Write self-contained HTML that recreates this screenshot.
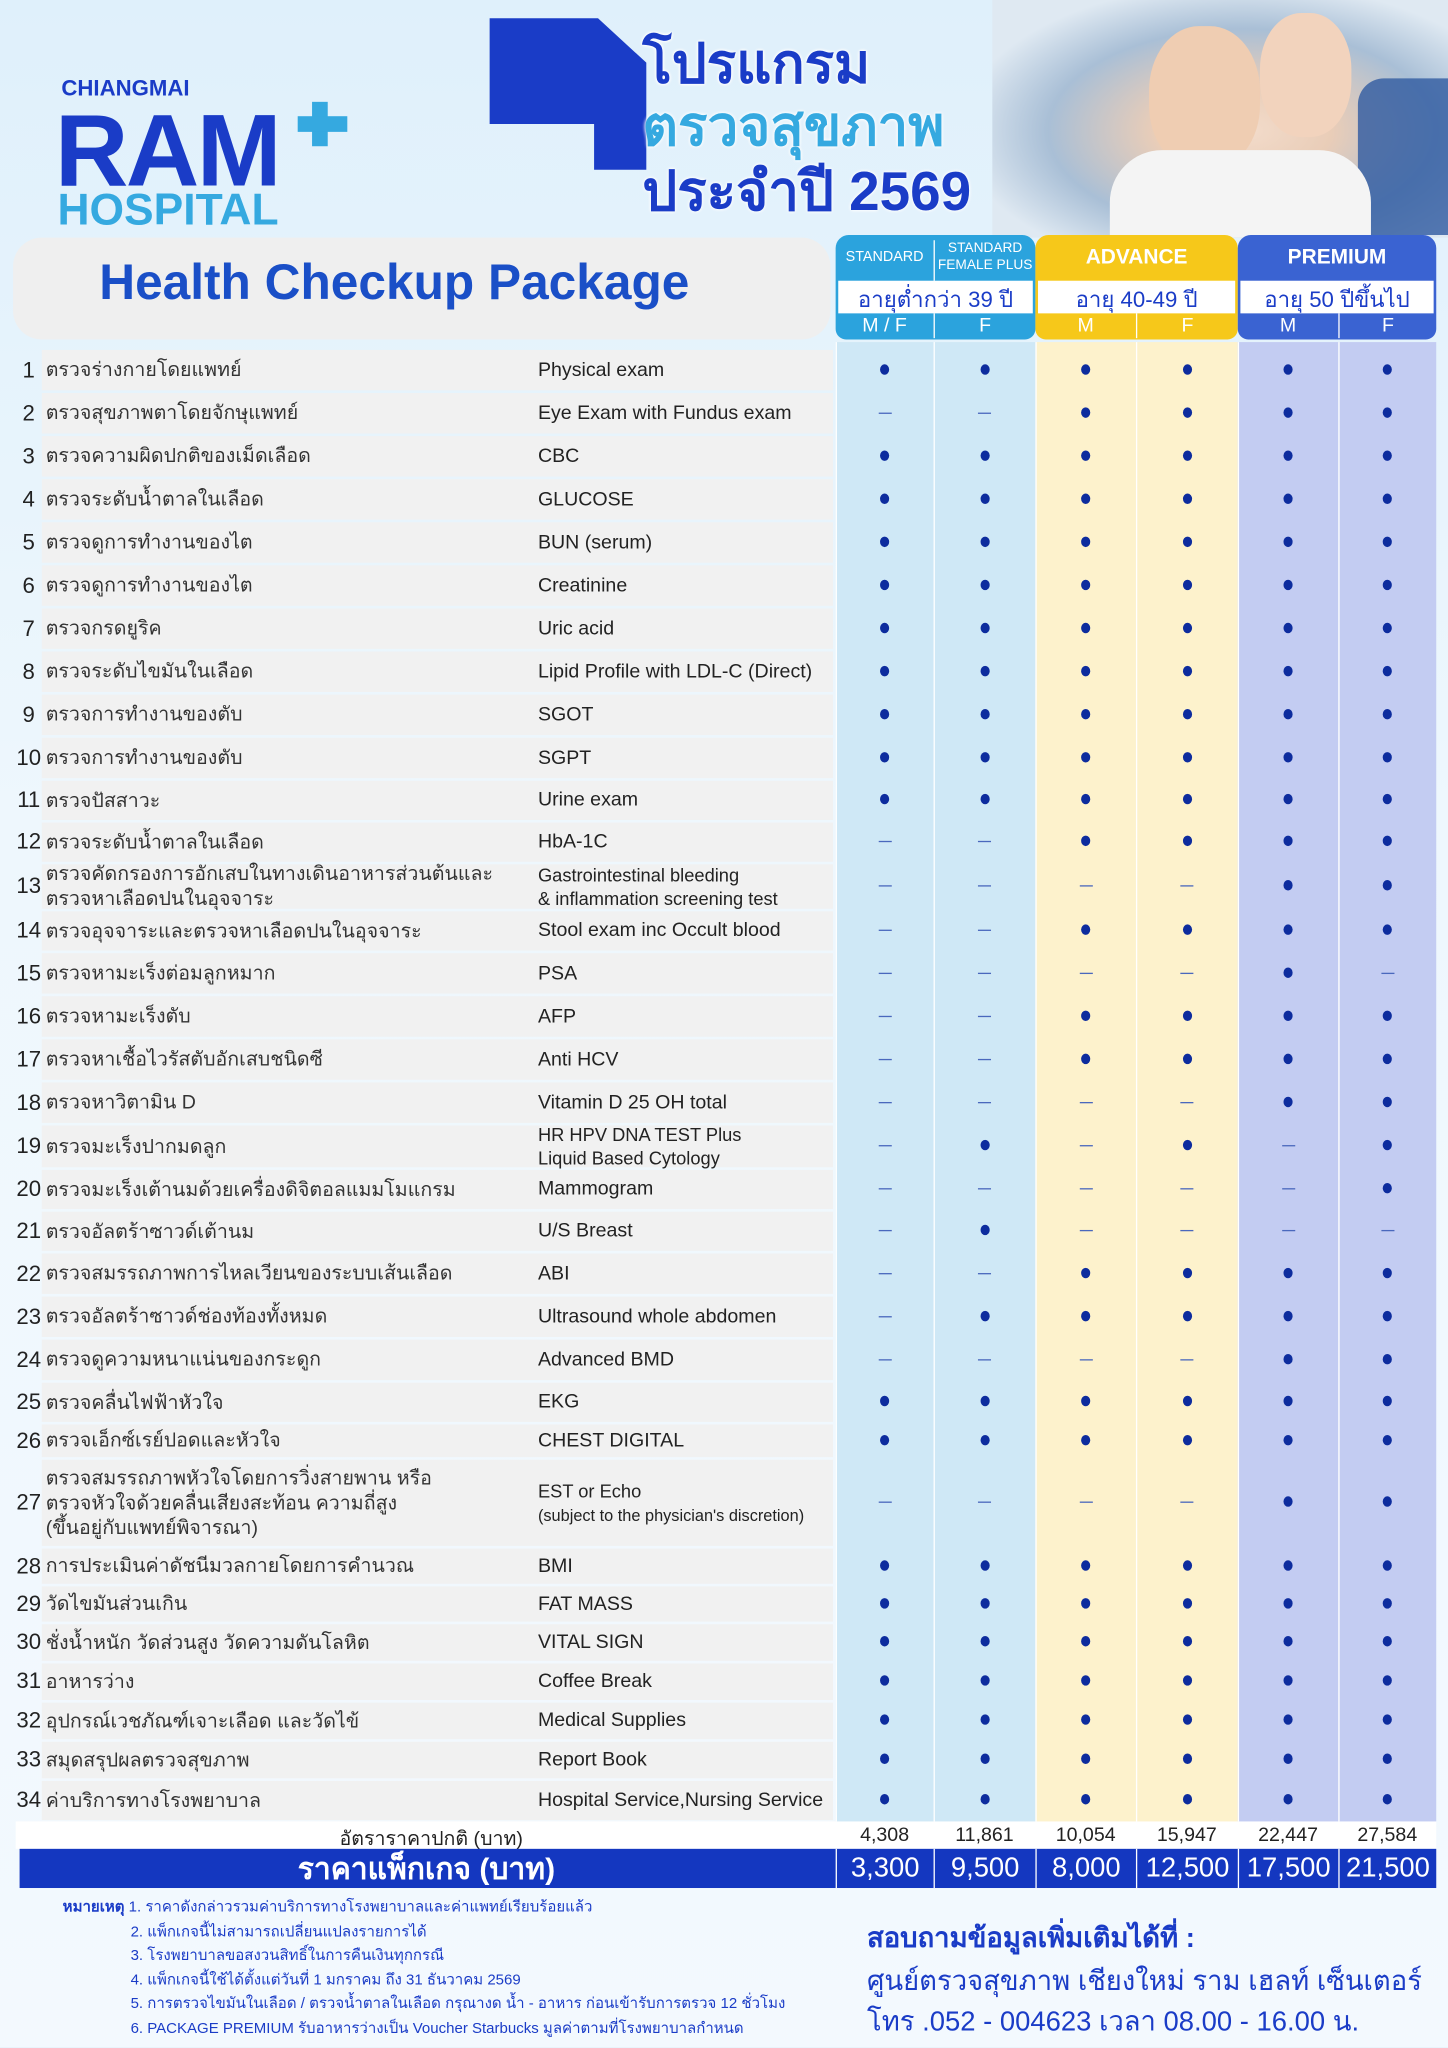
<!DOCTYPE html>
<html><head><meta charset="utf-8">
<style>
html,body{margin:0;padding:0;width:1448px;height:2048px;overflow:hidden;background:#e4f2fb;}
#wrap{position:absolute;left:0;top:0;width:1109px;height:1568px;transform:scale(1.30568);transform-origin:0 0;
 background:linear-gradient(180deg,#dff0fb 0%,#eef7fd 40%,#f3f9fe 100%);font-family:"Liberation Sans Narrow","Liberation Sans","DejaVu Sans",sans-serif;overflow:hidden;}
.a{position:absolute;}
.t{white-space:nowrap;}
</style></head><body>
<div id="wrap">
  <div class="a" style="left:760px;top:0;width:349px;height:182px;background:radial-gradient(ellipse at 55% 55%,#f3dccb 0%,#e9cdb8 25%,#a9bfd6 55%,#dfe9f2 80%);"></div>
  <div class="a" style="left:1040px;top:60px;width:69px;height:120px;background:#2f5aa0;opacity:.8;border-radius:20px 0 0 0;"></div>
  <div class="a" style="left:880px;top:20px;width:85px;height:110px;border-radius:45%;background:#efcdb2;"></div>
  <div class="a" style="left:965px;top:10px;width:70px;height:95px;border-radius:45%;background:#f2d3bd;"></div>
  <div class="a" style="left:850px;top:115px;width:200px;height:67px;border-radius:40px 40px 0 0;background:#f4f4f4;"></div>

  <div class="a t" style="left:47px;top:58px;font:bold 17px 'Liberation Sans',sans-serif;color:#1a3cc7;">CHIANGMAI</div>
  <div class="a t" style="left:42px;top:76px;font:bold 78px/1 'Liberation Sans',sans-serif;color:#1a3cc7;letter-spacing:-2px;">RAM</div>
  <div class="a" style="left:239px;top:78px;width:12px;height:34px;background:#35a9e0;"></div>
  <div class="a" style="left:228px;top:89px;width:38px;height:12px;background:#35a9e0;"></div>
  <div class="a t" style="left:44px;top:144px;font:bold 34px/1 'Liberation Sans',sans-serif;color:#35a9e0;">HOSPITAL</div>

  <svg class="a" style="left:370px;top:10px" width="140" height="130"><polygon points="5,4 88,4 125,38 125,120 85,120 85,85 5,85" fill="#1a3cc7"/></svg>
  <div class="a t" style="left:492px;top:26px;font:bold 42px/1.1 'Liberation Sans',sans-serif;color:#1a3cc7;text-shadow:0 0 3px #fff,0 0 3px #fff,0 0 2px #fff;">โปรแกรม</div>
  <div class="a t" style="left:492px;top:74px;font:bold 42px/1.1 'Liberation Sans',sans-serif;color:#35a9e0;text-shadow:0 0 3px #fff,0 0 3px #fff;">ตรวจสุขภาพ</div>
  <div class="a t" style="left:492px;top:124px;font:bold 42px/1.1 'Liberation Sans',sans-serif;color:#1a3cc7;text-shadow:0 0 3px #fff,0 0 3px #fff;">ประจำปี 2569</div>

  <div class="a" style="left:10px;top:182px;width:626px;height:78px;background:#efefef;border-radius:22px;"></div>
  <div class="a t" style="left:76px;top:196px;font:bold 38px 'Liberation Sans',sans-serif;color:#1a4fc7;">Health Checkup Package</div>

  <div class="a" style="left:12px;top:1395px;width:1088px;height:21px;background:#fff;"></div>
  <div class="a t" style="left:260px;top:1396px;font-size:15px;color:#222;">อัตราราคาปกติ (บาท)</div>
  <div class="a" style="left:15px;top:1416px;width:1085px;height:30px;background:#1437c0;"></div>
  <div class="a t" style="left:228px;top:1416px;font:bold 23px/30px 'Liberation Sans',sans-serif;color:#fff;">ราคาแพ็กเกจ (บาท)</div>

  <div class="a" style="left:48px;top:1452px;font-size:11.5px;line-height:18.6px;color:#1a3cc7;">
    <div class="t"><b>หมายเหตุ</b> 1. ราคาดังกล่าวรวมค่าบริการทางโรงพยาบาลและค่าแพทย์เรียบร้อยแล้ว</div>
    <div class="t" style="padding-left:52px">2. แพ็กเกจนี้ไม่สามารถเปลี่ยนแปลงรายการได้</div>
    <div class="t" style="padding-left:52px">3. โรงพยาบาลขอสงวนสิทธิ์ในการคืนเงินทุกกรณี</div>
    <div class="t" style="padding-left:52px">4. แพ็กเกจนี้ใช้ได้ตั้งแต่วันที่ 1 มกราคม ถึง 31 ธันวาคม 2569</div>
    <div class="t" style="padding-left:52px">5. การตรวจไขมันในเลือด / ตรวจน้ำตาลในเลือด กรุณางด น้ำ - อาหาร ก่อนเข้ารับการตรวจ 12 ชั่วโมง</div>
    <div class="t" style="padding-left:52px">6. PACKAGE PREMIUM รับอาหารว่างเป็น Voucher Starbucks มูลค่าตามที่โรงพยาบาลกำหนด</div>
  </div>
  <div class="a t" style="left:664px;top:1468px;font:bold 21px 'Liberation Sans',sans-serif;color:#1a3cc7;">สอบถามข้อมูลเพิ่มเติมได้ที่ :</div>
  <div class="a t" style="left:664px;top:1501px;font-size:21px;color:#1a3cc7;">ศูนย์ตรวจสุขภาพ เชียงใหม่ ราม เฮลท์ เซ็นเตอร์</div>
  <div class="a t" style="left:664px;top:1532px;font-size:21px;color:#1a3cc7;">โทร .052 - 004623 เวลา 08.00 - 16.00 น.</div>
</div>
<script>
const thai=["ตรวจร่างกายโดยแพทย์","ตรวจสุขภาพตาโดยจักษุแพทย์","ตรวจความผิดปกติของเม็ดเลือด","ตรวจระดับน้ำตาลในเลือด","ตรวจดูการทำงานของไต","ตรวจดูการทำงานของไต","ตรวจกรดยูริค","ตรวจระดับไขมันในเลือด","ตรวจการทำงานของตับ","ตรวจการทำงานของตับ","ตรวจปัสสาวะ","ตรวจระดับน้ำตาลในเลือด","ตรวจคัดกรองการอักเสบในทางเดินอาหารส่วนต้นและ|ตรวจหาเลือดปนในอุจจาระ","ตรวจอุจจาระและตรวจหาเลือดปนในอุจจาระ","ตรวจหามะเร็งต่อมลูกหมาก","ตรวจหามะเร็งตับ","ตรวจหาเชื้อไวรัสตับอักเสบชนิดซี","ตรวจหาวิตามิน D","ตรวจมะเร็งปากมดลูก","ตรวจมะเร็งเต้านมด้วยเครื่องดิจิตอลแมมโมแกรม","ตรวจอัลตร้าซาวด์เต้านม","ตรวจสมรรถภาพการไหลเวียนของระบบเส้นเลือด","ตรวจอัลตร้าซาวด์ช่องท้องทั้งหมด","ตรวจดูความหนาแน่นของกระดูก","ตรวจคลื่นไฟฟ้าหัวใจ","ตรวจเอ็กซ์เรย์ปอดและหัวใจ","ตรวจสมรรถภาพหัวใจโดยการวิ่งสายพาน  หรือ|ตรวจหัวใจด้วยคลื่นเสียงสะท้อน ความถี่สูง|(ขึ้นอยู่กับแพทย์พิจารณา)","การประเมินค่าดัชนีมวลกายโดยการคำนวณ","วัดไขมันส่วนเกิน","ชั่งน้ำหนัก วัดส่วนสูง วัดความดันโลหิต","อาหารว่าง","อุปกรณ์เวชภัณฑ์เจาะเลือด และวัดไข้","สมุดสรุปผลตรวจสุขภาพ","ค่าบริการทางโรงพยาบาล"];
const eng=["Physical exam","Eye Exam with Fundus exam","CBC","GLUCOSE","BUN (serum)","Creatinine","Uric acid","Lipid Profile with LDL-C (Direct)","SGOT","SGPT","Urine exam","HbA-1C","Gastrointestinal bleeding|& inflammation screening test","Stool exam inc Occult blood","PSA","AFP","Anti HCV","Vitamin D 25 OH total","HR HPV DNA TEST Plus|Liquid Based Cytology","Mammogram","U/S Breast","ABI","Ultrasound whole abdomen","Advanced BMD","EKG","CHEST DIGITAL","EST or Echo|(subject to the physician's discretion)","BMI","FAT MASS","VITAL SIGN","Coffee Break","Medical Supplies","Report Book","Hospital Service,Nursing Service"];
const inclusion=["111111","001111","111111","111111","111111","111111","111111","111111","111111","111111","111111","001111","000011","001111","000010","001111","001111","000011","010101","000001","010000","001111","011111","000011","111111","111111","000011","111111","111111","111111","111111","111111","111111","111111"];
const packages=["STANDARD M/F","STANDARD FEMALE PLUS F","ADVANCE M","ADVANCE F","PREMIUM M","PREMIUM F"];
const regularPrice=["4,308","11,861","10,054","15,947","22,447","27,584"];
const packagePrice=["3,300","9,500","8,000","12,500","17,500","21,500"];
const rowBounds=[267,300,333,366,399,432,465,498,531,564,597,629,661,697,729,762,795,828,861,895,927,959,992,1025,1058,1090,1117,1185,1214,1243,1273,1303,1333,1363,1395];
const colX=[640,715,793,870,948,1025,1100];
const colBg=["#cfe8f6","#cfe8f6","#fdf2cc","#fdf2cc","#c3ccf2","#c3ccf2"];
const W=document.getElementById('wrap');
function mk(css,name,html){const d=document.createElement('div');d.className='a';d.style.cssText=css;


if(html!==undefined)d.innerHTML=html;W.appendChild(d);return d;}
for(let c=0;c<6;c++){mk(`left:${colX[c]}px;top:262px;width:${colX[c+1]-colX[c]}px;height:${1395-262}px;background:${colBg[c]};border-left:1px solid #fff;box-sizing:border-box;`,'column-bg-'+(c+1));}
const groups=[[0,2,"#2ba3dd"],[2,4,"#f6c81a"],[4,6,"#3a63d2"]];
const ages=["อายุต่ำกว่า 39 ปี","อายุ 40-49 ปี","อายุ 50 ปีขึ้นไป"];
groups.forEach((g,i)=>{const x=colX[g[0]],w=colX[g[1]]-x;
 mk(`left:${x}px;top:180px;width:${w}px;height:80px;background:${g[2]};border-radius:10px 10px 8px 8px;`,'header-group-'+(i+1));
 mk(`left:${x+2}px;top:215px;width:${w-4}px;height:25px;background:#fff;`,'header-age-bg-'+(i+1));
 mk(`left:${x}px;top:216px;width:${w}px;text-align:center;font-size:17px;color:#1a3cc7;white-space:nowrap;`,'header-age-'+(i+1),ages[i]);
});
mk(`left:640px;top:180px;width:75px;height:35px;text-align:center;font-size:11px;line-height:35px;color:#fff;`,'header-standard','STANDARD');
mk(`left:715px;top:184px;width:78px;text-align:center;font-size:10.5px;line-height:13px;color:#fff;border-left:1px solid #fff;height:31px;box-sizing:border-box;`,'header-standard-female-plus','STANDARD<br>FEMALE PLUS');
mk(`left:793px;top:180px;width:155px;text-align:center;font:bold 16px/35px 'Liberation Sans',sans-serif;color:#fff;`,'header-advance','ADVANCE');
mk(`left:948px;top:180px;width:152px;text-align:center;font:bold 16px/35px 'Liberation Sans',sans-serif;color:#fff;`,'header-premium','PREMIUM');
const sex=["M / F","F","M","F","M","F"];
for(let c=0;c<6;c++){mk(`left:${colX[c]}px;top:240px;width:${colX[c+1]-colX[c]}px;text-align:center;font-size:15px;line-height:19px;color:#fff;${c%2?'border-left:1px solid #fff;box-sizing:border-box;':''}`,'header-sex-'+(c+1),sex[c]);}
for(let r=0;r<thai.length;r++){const y=rowBounds[r],h=rowBounds[r+1]-y,cy=y+h/2;
 mk(`left:32px;top:${y+1}px;width:606px;height:${h-2}px;background:#f1f1f1;`,'row-bg-'+(r+1));
 mk(`left:10px;top:${y}px;width:24px;height:${h}px;line-height:${h}px;font-size:17px;color:#222;text-align:center;`,'row-number-'+(r+1),String(r+1));
 const tl=thai[r].split('|');
 mk(`left:35px;top:${cy-tl.length*9.5}px;font-size:15px;line-height:19px;color:#333;white-space:nowrap;`,'row-thai-'+(r+1),tl.join('<br>'));
 const el=eng[r].split('|');
 mk(`left:412px;top:${cy-el.length*9}px;font-size:${el.length>1?14:15}px;line-height:18px;color:#222;white-space:nowrap;`,'row-english-'+(r+1),el.map((s,i)=>i==1&&r==26?'<span style="font-size:12.5px">'+s+'</span>':s).join('<br>'));
 for(let c=0;c<6;c++){const cx=(colX[c]+colX[c+1])/2;
  if(inclusion[r][c]==='1'){mk(`left:${cx-3.5}px;top:${cy-5}px;width:7px;height:8px;border-radius:50%;background:#0d2c9e;`,'dot-r'+(r+1)+'-c'+(c+1));}
  else{mk(`left:${cx-5}px;top:${cy-1}px;width:10px;height:1.2px;background:#4a68bd;`,'dash-r'+(r+1)+'-c'+(c+1));}
 }
}
for(let c=0;c<6;c++){const x=colX[c],w=colX[c+1]-x;
 mk(`left:${x}px;top:1395px;width:${w}px;text-align:center;font-size:15px;line-height:21px;color:#222;`,'regular-price-'+(c+1),regularPrice[c]);
 mk(`left:${x}px;top:1416px;width:${w}px;height:30px;text-align:center;font-size:21px;line-height:30px;color:#fff;border-left:1px solid #fff;box-sizing:border-box;`,'package-price-'+(c+1),packagePrice[c]);
}
</script>
</body></html>
